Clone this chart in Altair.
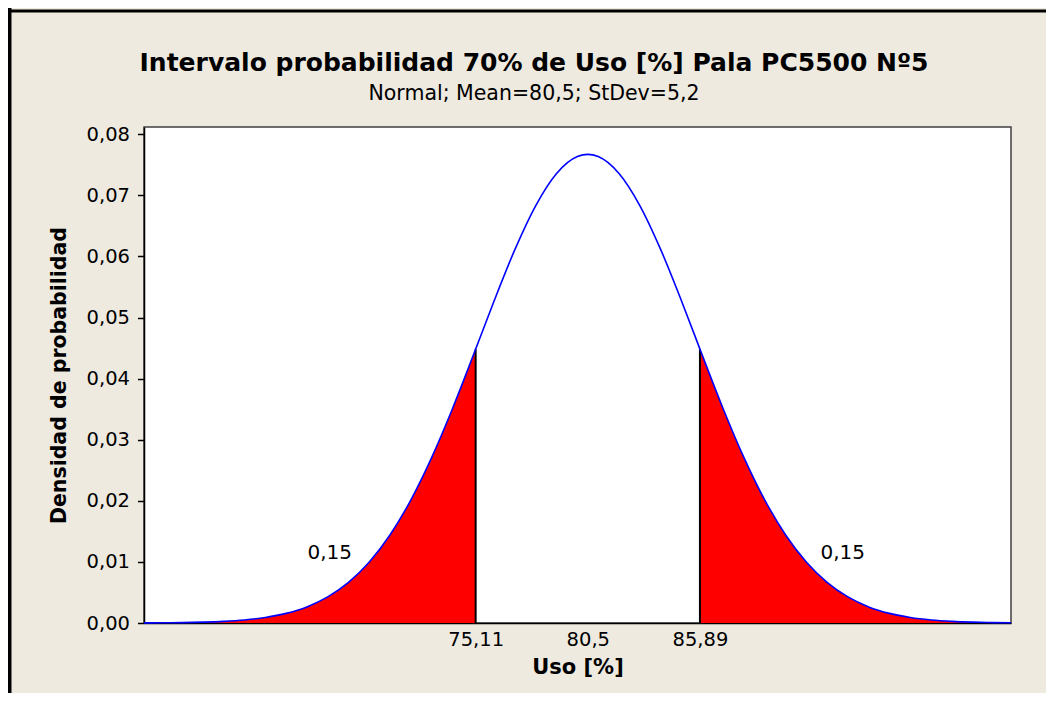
import altair as alt
import pandas as pd

# ---- data ----
uso = [59.17, 60, 61, 62, 63, 64, 65, 66, 67, 68, 69, 70, 71, 72, 73, 74, 75, 75.11,
       76, 77, 78, 79, 80, 80.5, 81, 82, 83, 84, 85, 85.89, 86, 87, 88, 89, 90, 91,
       92, 93, 94, 95, 96, 97, 98, 99, 100, 100.84]
densidad = [0.0000170, 0.0000324, 0.0000678, 0.000137, 0.000267, 0.000500, 0.000903,
            0.001572, 0.002638, 0.004268, 0.006649, 0.009987, 0.014457, 0.020169,
            0.027114, 0.035124, 0.043850, 0.044832, 0.052760, 0.061168, 0.068346,
            0.073593, 0.076365, 0.076719, 0.076365, 0.073593, 0.068346, 0.061168,
            0.052760, 0.044832, 0.043850, 0.035124, 0.027114, 0.020169, 0.014457,
            0.009987, 0.006649, 0.004268, 0.002638, 0.001572, 0.000903, 0.000500,
            0.000267, 0.000137, 0.0000678, 0.0000365]
limites = [75.11, 85.89]
densidad_limites = [0.044832, 0.044832]
sombra_desde = 62.0
sombra_hasta = 99.0
x_ticks = [75.11, 80.5, 85.89]
y_ticks = [0.00, 0.01, 0.02, 0.03, 0.04, 0.05, 0.06, 0.07, 0.08]
prob_texto = ["0,15", "0,15"]
prob_x = [68.1, 92.75]
prob_y = [0.0105, 0.0105]
titulo = "Intervalo probabilidad 70% de Uso [%] Pala PC5500 Nº5"
subtitulo = "Normal; Mean=80,5; StDev=5,2"

FONT = "DejaVu Sans"

curva = pd.DataFrame({"uso": uso, "dens": densidad})
curva["lado"] = ["izq" if u <= limites[0] else ("der" if u >= limites[1] else "centro") for u in uso]
colas = curva[(curva["lado"] != "centro") & (curva["uso"] >= sombra_desde) & (curva["uso"] <= sombra_hasta)]
lineas = pd.DataFrame({"uso": limites, "dens": densidad_limites})
etiquetas = pd.DataFrame({"uso": prob_x, "dens": prob_y, "txt": prob_texto})

xscale = alt.Scale(domain=[59.17, 100.84], nice=False, zero=False)
yscale = alt.Scale(domain=[0, 0.0812], nice=False)

xaxis = alt.Axis(values=x_ticks, labelExpr="replace(toString(datum.value), '.', ',')",
                 ticks=False, labelPadding=7, labelFontSize=19.5,
                 title="Uso [%]", titleFontSize=21, titleFontWeight="bold", titlePadding=8,
                 grid=False)
yaxis = alt.Axis(values=y_ticks, labelExpr="replace(format(datum.value, '.2f'), '.', ',')",
                 tickSize=6.5, labelPadding=8, labelFontSize=19.5,
                 title="Densidad de probabilidad", titleFontSize=20.5, titleFontWeight="bold",
                 titlePadding=17, grid=False)

area = alt.Chart(colas).mark_area(color="#FF0000", interpolate="monotone").encode(
    x=alt.X("uso:Q", scale=xscale, axis=xaxis),
    y=alt.Y("dens:Q", scale=yscale, axis=yaxis, stack=None),
    detail="lado:N",
)

reglas = alt.Chart(lineas).mark_rule(color="black", strokeWidth=2).encode(
    x=alt.X("uso:Q", scale=xscale),
    y=alt.Y("dens:Q", scale=yscale),
    y2=alt.datum(0),
)

linea = alt.Chart(curva).mark_line(color="#0000FF", strokeWidth=1.6, interpolate="monotone").encode(
    x=alt.X("uso:Q", scale=xscale),
    y=alt.Y("dens:Q", scale=yscale),
)

textos = alt.Chart(etiquetas).mark_text(fontSize=20, font=FONT, color="black", baseline="alphabetic").encode(
    x=alt.X("uso:Q", scale=xscale),
    y=alt.Y("dens:Q", scale=yscale),
    text="txt:N",
)

marco = pd.DataFrame({"k": [0]})
borde_sup = alt.Chart(marco).mark_rule(color="black", strokeWidth=3).encode(
    x=alt.value(-136), x2=alt.value(902), y=alt.value(-116))
borde_izq = alt.Chart(marco).mark_rule(color="black", strokeWidth=3.5).encode(
    x=alt.value(-134.25), y=alt.value(-119), y2=alt.value(566))

tit = alt.Chart(pd.DataFrame({"t": [titulo]})).mark_text(
    fontSize=25, fontWeight="bold", font=FONT, color="black", baseline="alphabetic", align="center"
).encode(x=alt.value(390), y=alt.value(-56), text="t:N")
subtit = alt.Chart(pd.DataFrame({"t": [subtitulo]})).mark_text(
    fontSize=20.5, font=FONT, color="black", baseline="alphabetic", align="center"
).encode(x=alt.value(390), y=alt.value(-27), text="t:N")

chart = alt.layer(area, reglas, linea, textos, borde_sup, borde_izq, tit, subtit).properties(
    width=867,
    height=496,
    autosize=alt.AutoSizeParams(type="none"),
    padding={"left": 136, "top": 119, "right": 35, "bottom": 70},
).configure(
    background="#EEEAE0",
    font=FONT,
).configure_view(
    fill="white", stroke="#404040", strokeWidth=1.5,
).configure_axis(
    domainColor="black", domainWidth=1.5, tickColor="black", tickWidth=1.5,
    labelColor="black", titleColor="black", labelFont=FONT, titleFont=FONT,
)

chart.save("out.html", embed_options={"renderer": "svg", "actions": False})
